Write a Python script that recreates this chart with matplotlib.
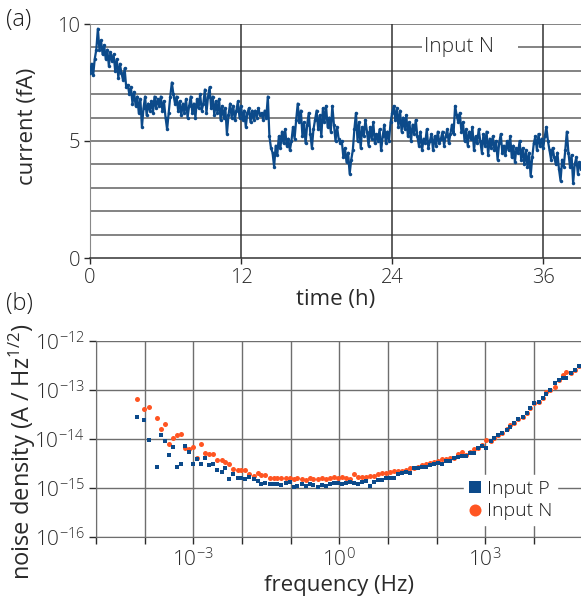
import numpy as np
import matplotlib
matplotlib.use("Agg")
import matplotlib.pyplot as plt

# ---------------- data: panel (a) ----------------
t_step_h = 0.125
current_fA = [
    7.9, 8.3, 7.8, 8.5, 8.9, 9.8, 8.9, 9.3,
    8.7, 9.1, 8.5, 8.9, 8.2, 8.8, 8.4, 8.7,
    8.0, 8.5, 7.7, 8.3, 7.9, 7.6, 8.1, 7.3,
    7.4, 7.0, 7.3, 6.6, 7.1, 6.5, 6.9, 6.2,
    6.8, 5.6, 6.4, 6.9, 6.1, 6.6, 6.3, 6.7,
    6.2, 6.9, 6.4, 6.8, 6.5, 6.9, 6.3, 6.7,
    6.0, 5.5, 6.2, 6.9, 7.5, 7.0, 6.6, 6.9,
    6.3, 6.7, 6.1, 6.6, 6.2, 6.8, 6.0, 6.5,
    6.9, 6.2, 6.6, 6.0, 6.8, 6.4, 7.0, 6.3,
    6.6, 7.2, 6.2, 6.9, 7.3, 6.4, 6.9, 6.1,
    6.7, 6.2, 6.8, 5.9, 6.5, 6.0, 6.4, 5.3,
    6.1, 6.6, 6.0, 6.5, 5.9, 6.3, 6.7, 6.0,
    6.5, 5.9, 6.3, 5.6, 6.2, 6.4, 5.8, 6.3,
    5.9, 6.3, 6.0, 6.4, 6.1, 6.2, 5.9, 6.3,
    6.0, 6.9, 5.2, 4.7, 4.5, 3.9, 4.8, 4.4,
    5.2, 4.7, 5.4, 4.9, 5.5, 4.8, 5.1, 4.6,
    5.0, 5.6, 5.1, 5.9, 6.6, 5.8, 6.3, 5.2,
    5.8, 4.9, 5.7, 6.2, 5.3, 4.7, 5.5, 5.9,
    6.3, 5.5, 6.1, 5.2, 6.4, 5.8, 6.5, 5.6,
    6.0, 5.4, 6.5, 5.7, 5.0, 5.6, 5.1, 4.9,
    5.0, 4.3, 4.7, 4.1, 4.5, 3.6, 4.2, 4.6,
    5.5, 6.2, 5.0, 5.8, 4.7, 5.6, 5.2, 5.9,
    5.4, 4.8, 5.6, 5.1, 5.8, 4.9, 5.3, 5.0,
    5.5, 4.6, 5.2, 5.7, 4.9, 5.4, 5.0, 5.8,
    6.2, 6.5, 5.9, 6.4, 5.6, 6.3, 5.4, 6.0,
    5.5, 6.1, 5.2, 5.8, 5.0, 5.7, 5.3, 5.9,
    5.2, 4.8, 5.4, 4.6, 5.1, 4.9, 5.5, 4.7,
    5.0, 5.3, 4.6, 5.2, 4.8, 5.4, 4.9, 5.1,
    5.4, 4.8, 5.2, 5.5, 4.9, 5.3, 5.7, 5.3,
    6.5, 6.1, 5.8, 6.2, 5.4, 5.8, 5.0, 5.5,
    4.8, 5.4, 5.1, 5.6, 4.6, 5.2, 4.9, 5.5,
    5.0, 4.5, 5.3, 4.8, 5.4, 4.4, 5.1, 4.7,
    5.2, 4.6, 5.0, 4.2, 4.9, 5.3, 4.5, 4.8,
    4.4, 5.0, 4.6, 5.2, 4.3, 4.8, 4.1, 4.7,
    4.5, 5.0, 4.2, 4.7, 4.0, 4.6, 3.9, 4.5,
    3.5, 4.3, 4.9, 5.2, 4.6, 5.3, 4.8, 5.1,
    4.7, 5.2, 5.6, 5.0, 4.6, 4.2, 4.7, 4.3,
    4.0, 4.5, 3.8, 3.3, 4.2, 3.9, 4.6, 5.4,
    4.5, 3.9, 4.4, 3.2, 4.0, 4.3, 3.6, 4.1,
    3.8,
]
time_h = np.arange(len(current_fA)) * t_step_h
time_ticks = [0, 12, 24, 36]
current_ticks = [0, 5, 10]

# ---------------- data: panel (b) ----------------
log_freq = [
    -4.16, -4.01, -3.92, -3.74,
    -3.66, -3.58, -3.50, -3.41, -3.33, -3.25, -3.17, -3.08, -3.00, -2.92,
    -2.84, -2.75, -2.67, -2.59, -2.51, -2.42, -2.34, -2.26, -2.18, -2.09,
    -2.01, -1.93, -1.85, -1.76, -1.68, -1.60, -1.52, -1.43, -1.35, -1.27,
    -1.19, -1.10, -1.02, -0.94, -0.86, -0.77, -0.69, -0.61, -0.53, -0.44,
    -0.36, -0.28, -0.20, -0.11, -0.03, 0.05, 0.14, 0.22, 0.30, 0.38,
    0.47, 0.55, 0.63, 0.71, 0.80, 0.88, 0.96, 1.04, 1.13, 1.21,
    1.29, 1.37, 1.46, 1.54, 1.62, 1.70, 1.79, 1.87, 1.95, 2.03,
    2.12, 2.20, 2.28, 2.36, 2.45, 2.53, 2.61, 2.69, 2.78, 2.86,
    2.94, 3.02, 3.11, 3.19, 3.27, 3.35, 3.44, 3.52, 3.60, 3.68,
    3.77, 3.85, 3.93, 4.01, 4.10, 4.18, 4.26, 4.34, 4.43, 4.51,
    4.59, 4.67, 4.76, 4.84, 4.92,
]
log_noise_P = [
    -13.55, -13.61, -14.03, -14.57,
    -13.92, -14.04, -14.33, -14.16, -14.57, -14.50, -14.15, -14.27, -14.52, -14.40,
    -14.51, -14.38, -14.53, -14.52, -14.63, -14.67, -14.60, -14.82, -14.71, -14.79,
    -14.79, -14.82, -14.78, -14.81, -14.86, -14.91, -14.90, -14.92, -14.92, -14.92,
    -14.94, -14.90, -14.87, -14.97, -14.95, -14.91, -14.96, -14.92, -14.93, -14.97,
    -14.94, -14.95, -14.92, -14.90, -14.90, -14.92, -14.89, -14.88, -14.89, -14.92,
    -14.87, -14.86, -14.95, -14.87, -14.84, -14.83, -14.80, -14.80, -14.79, -14.71,
    -14.70, -14.67, -14.70, -14.60, -14.59, -14.57, -14.57, -14.53, -14.50, -14.48,
    -14.50, -14.44, -14.44, -14.38, -14.37, -14.35, -14.35, -14.28, -14.28, -14.19,
    -14.14, -14.19, -14.05, -13.97, -13.91, -13.87, -13.82, -13.75, -13.68, -13.60,
    -13.55, -13.46, -13.36, -13.26, -13.24, -13.16, -13.09, -13.00, -12.86, -12.80,
    -12.76, -12.75, -12.66, -12.59, -12.50,
]
log_noise_N = [
    -13.18, -13.39, -13.34, -13.57,
    -13.79, -13.69, -14.10, -13.98, -13.91, -13.90, -14.18, -14.20, -14.16, -14.38,
    -14.11, -14.29, -14.31, -14.31, -14.42, -14.42, -14.46, -14.50, -14.62, -14.64,
    -14.63, -14.63, -14.71, -14.75, -14.70, -14.74, -14.74, -14.80, -14.80, -14.79,
    -14.80, -14.80, -14.79, -14.82, -14.80, -14.81, -14.83, -14.80, -14.81, -14.82,
    -14.80, -14.81, -14.79, -14.77, -14.80, -14.77, -14.80, -14.82, -14.72, -14.77,
    -14.77, -14.78, -14.76, -14.76, -14.72, -14.70, -14.70, -14.68, -14.65, -14.65,
    -14.65, -14.64, -14.59, -14.59, -14.58, -14.53, -14.51, -14.49, -14.46, -14.44,
    -14.41, -14.41, -14.39, -14.38, -14.31, -14.27, -14.33, -14.27, -14.21, -14.19,
    -14.13, -14.02, -14.05, -13.97, -13.91, -13.87, -13.80, -13.71, -13.67, -13.60,
    -13.55, -13.46, -13.36, -13.26, -13.24, -13.16, -13.05, -13.00, -12.93, -12.80,
    -12.70, -12.63, -12.66, -12.59, -12.50,
]
freq_label_exps = [-3, 0, 3]
noise_tick_exps = [-16, -15, -14, -13, -12]
series_labels = ["Input P", "Input N"]

# ---------------- style ----------------
FONT = "Open Sans"
plt.rcParams["font.family"] = [FONT, "DejaVu Sans"]
plt.rcParams["font.weight"] = 300
plt.rcParams["mathtext.default"] = "regular"
plt.rcParams["axes.unicode_minus"] = False

BLUE = "#0c4a8a"
ORANGE = "#ff5522"
GRID_DARK = "#333333"
GRID = "#6e6e6e"
TXT = "#2a2a2a"
FS = 14.5

fig = plt.figure(figsize=(5.81, 6.01), dpi=100)

# ---------------- panel (a) ----------------
axa = fig.add_axes([90 / 581, 1 - 258 / 601, 1 - 90 / 581, (258 - 24) / 601])
axa.set_xlim(0, 39)
axa.set_ylim(0, 10)
for v in range(1, 11):
    axa.axhline(v, color=GRID, lw=1.2, zorder=1)
for v in time_ticks[1:]:
    axa.axvline(v, color=GRID_DARK, lw=1.1, zorder=1)
axa.plot(time_h, current_fA, color=BLUE, lw=1.6, marker="o", ms=2.5,
         mew=0, zorder=3)
axa.set_xticks(time_ticks)
axa.set_yticks(current_ticks)
axa.tick_params(labelsize=FS, colors=TXT, length=4, width=1, pad=3)
for s in ["top", "right"]:
    axa.spines[s].set_visible(False)
axa.spines["left"].set_color("#888888")
axa.spines["bottom"].set_color(GRID_DARK)
axa.spines["bottom"].set_linewidth(1.1)
axa.set_xlabel("time (h)", fontsize=FS + 1.5, color=TXT, labelpad=1)
axa.set_ylabel("current (fA)", fontsize=FS + 1.5, color=TXT)
axa.yaxis.set_label_coords(-(90 - 38) / 491, (258 - 126) / 234)
# series name box over gridline
axa.fill_between([26.4, 34.0], 8.8, 9.2, color="white", lw=0, zorder=2)
axa.text(26.5, 9, "Input N", fontsize=FS + 0.5, color=TXT, va="center",
         ha="left", zorder=4)
fig.text(6 / 581, 1 - 20 / 601, "(a)", fontsize=FS + 2.5, color="#1a1a1a",
         va="center", ha="left")

# ---------------- panel (b) ----------------
axb = fig.add_axes([96 / 581, 1 - 537 / 601, 1 - 96 / 581, (537 - 341) / 601])
axb.set_xscale("log")
axb.set_yscale("log")
axb.set_xlim(1e-5, 10 ** 4.97)
axb.set_ylim(1e-16, 1e-12)
fx = 10.0 ** np.array(log_freq)
hN, = axb.plot(fx, 10.0 ** np.array(log_noise_N), ls="none", marker="o",
               ms=3.6, mew=0, color=ORANGE, zorder=3)
hP, = axb.plot(fx, 10.0 ** np.array(log_noise_P), ls="none", marker="s",
               ms=3.4, mew=0, color=BLUE, zorder=4)
decades = list(range(-5, 5))
axb.set_xticks([10.0 ** d for d in decades])
axb.set_xticklabels([(r"$10^{%d}$" % d if d in freq_label_exps else "")
                     for d in decades])
axb.xaxis.set_minor_locator(matplotlib.ticker.NullLocator())
axb.set_yticks([10.0 ** d for d in noise_tick_exps])
axb.set_yticklabels([r"$10^{%d}$" % d for d in noise_tick_exps])
axb.yaxis.set_minor_locator(matplotlib.ticker.NullLocator())
axb.grid(True, color=GRID, lw=1.0, zorder=1)
axb.set_axisbelow(True)
axb.tick_params(labelsize=FS + 0.5, colors=TXT, length=5, width=1, pad=3)
for s in ["top", "right"]:
    axb.spines[s].set_visible(False)
axb.spines["left"].set_color(GRID)
axb.spines["bottom"].set_color(GRID)
axb.set_xlabel("frequency (Hz)", fontsize=FS + 1.5, color=TXT, labelpad=3)
axb.set_ylabel(r"noise density (A / Hz$^{1/2}$)", fontsize=FS + 2.5,
               color=TXT)
axb.yaxis.set_label_coords(-(96 - 38) / 485, (537 - 452) / 196)
leg = axb.legend([hP, hN], series_labels, loc="lower right",
                 bbox_to_anchor=(0.958, 0.04), frameon=True, fontsize=FS - 0.5,
                 markerscale=2.4, handlelength=0.6, handletextpad=0.3,
                 borderpad=0.25, labelspacing=0.25, borderaxespad=0.2)
leg.get_frame().set_facecolor("white")
leg.get_frame().set_edgecolor("white")
leg.get_frame().set_alpha(1)
for txt in leg.get_texts():
    txt.set_color("#1a1a1a")
fig.text(6 / 581, 1 - 304 / 601, "(b)", fontsize=FS + 2.5, color="#1a1a1a",
         va="center", ha="left")

fig.savefig("out.png", dpi=100)
